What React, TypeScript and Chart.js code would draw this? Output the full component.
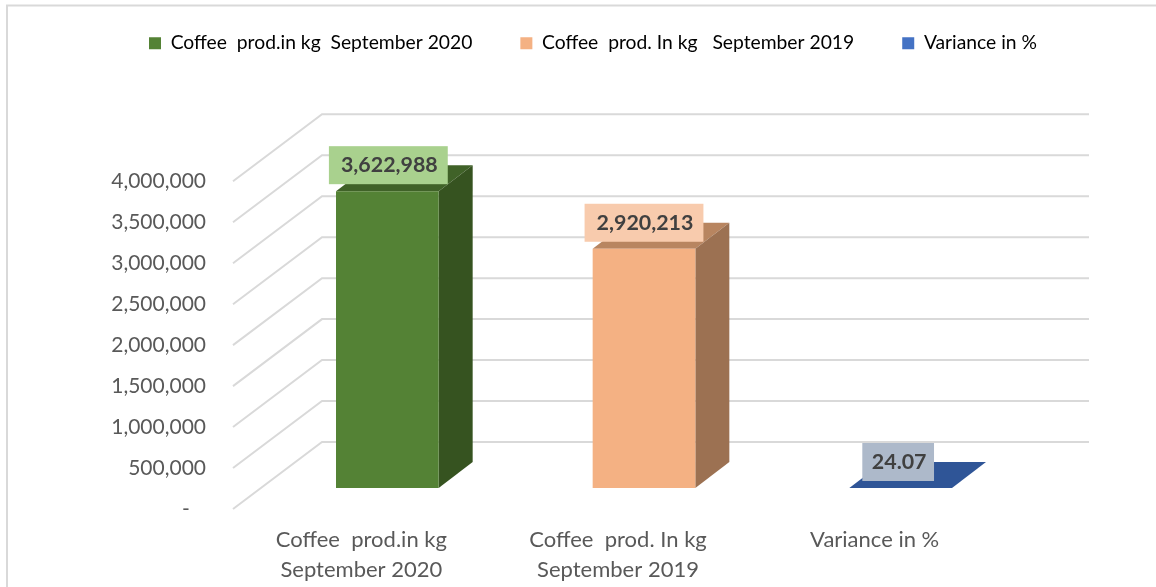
import React, { useEffect, useRef } from "react";
import { Chart, registerables } from "chart.js";

Chart.register(...registerables);

const categories = [
  ["Coffee  prod.in kg", "September 2020"],
  ["Coffee  prod. In kg", "September 2019"],
  ["Variance in %"],
];
const legendLabels = [
  "Coffee  prod.in kg  September 2020",
  "Coffee  prod. In kg   September 2019",
  "Variance in %",
];
const values = [3622988, 2920213, 24.07];
const valueLabels = ["3,622,988", "2,920,213", "24.07"];
const frontColors = ["#548235", "#F4B183", "#4472C4"];
const topColors = ["#406228", "#B88560", "#2F5597"];
const sideColors = ["#365320", "#9C7152", "#2F5597"];
const labelBoxColors = ["#A9D18E", "#F8CBAD", "#ADB9CA"];
const labelBoxShift = [1, 0, -2.5];
const labelBoxPad = [22, 22, 17];

const FONT = "Lato, Carlito, sans-serif";
const TEXT = "#595959";
const GRID = "#D9D9D9";
const DEPTH_X = 34;
const DEPTH_Y = 26;

const poly = (ctx: CanvasRenderingContext2D, pts: number[][], color: string) => {
  ctx.beginPath();
  pts.forEach(([x, y], i) => (i ? ctx.lineTo(x, y) : ctx.moveTo(x, y)));
  ctx.closePath();
  ctx.fillStyle = color;
  ctx.fill();
};

const frame3d = {
  id: "frame3d",
  afterLayout(chart: any) {
    const lg = chart.legend;
    lg.left = 149 - 48;
    lg.top = -14.5;
  },
  beforeDatasetsDraw(chart: any) {
    const ctx: CanvasRenderingContext2D = chart.ctx;
    const yScale = chart.scales.y;
    ctx.save();
    // chart frame
    ctx.strokeStyle = GRID;
    ctx.lineWidth = 2;
    ctx.beginPath();
    ctx.moveTo(7, 587);
    ctx.lineTo(7, 5.5);
    ctx.lineTo(1156, 5.5);
    ctx.stroke();
    // floor and wall gridlines
    yScale.ticks.forEach((_: any, i: number) => {
      const y = yScale.getPixelForTick(i);
      ctx.beginPath();
      ctx.moveTo(233, y + 21);
      ctx.lineTo(322, y - 46);
      ctx.lineTo(1089, y - 46);
      ctx.stroke();
    });
    // bar top and side faces
    chart.getDatasetMeta(0).data.forEach((bar: any, i: number) => {
      const l = bar.x - bar.width / 2;
      const r = bar.x + bar.width / 2;
      poly(ctx, [[l, bar.y], [r, bar.y], [r + DEPTH_X, bar.y - DEPTH_Y], [l + DEPTH_X, bar.y - DEPTH_Y]], topColors[i]);
      poly(ctx, [[r, bar.y], [r + DEPTH_X, bar.y - DEPTH_Y], [r + DEPTH_X, bar.base - DEPTH_Y], [r, bar.base]], sideColors[i]);
    });
    ctx.restore();
  },
  afterDatasetsDraw(chart: any) {
    const ctx: CanvasRenderingContext2D = chart.ctx;
    ctx.save();
    ctx.font = `bold 21.4px ${FONT}`;
    ctx.textAlign = "center";
    ctx.textBaseline = "middle";
    chart.getDatasetMeta(0).data.forEach((bar: any, i: number) => {
      const w = ctx.measureText(valueLabels[i]).width + labelBoxPad[i];
      const h = 38;
      const cx = bar.x + labelBoxShift[i];
      const bottom = bar.y - 7;
      ctx.fillStyle = labelBoxColors[i];
      ctx.fillRect(cx - w / 2, bottom - h, w, h);
      ctx.fillStyle = "#404040";
      ctx.fillText(valueLabels[i], cx + 1, bottom - h / 2);
    });
    ctx.restore();
  },
};

export default function App() {
  const ref = useRef<HTMLCanvasElement>(null);
  useEffect(() => {
    const chart = new Chart(ref.current!, {
      type: "bar",
      data: {
        labels: categories as any,
        datasets: [
          {
            data: values,
            backgroundColor: frontColors,
            barPercentage: 1,
            categoryPercentage: 0.4,
          },
        ],
      },
      plugins: [frame3d],
      options: {
        animation: false,
        responsive: false,
        layout: { padding: { top: 83, right: 0, left: 0, bottom: 0 } },
        plugins: {
          tooltip: { enabled: false },
          title: { display: false },
          legend: {
            position: "top",
            align: "start",
            onClick: () => {},
            labels: {
              boxWidth: 12,
              boxHeight: 12,
              padding: 48,
              color: TEXT,
              font: { family: FONT, size: 19.3 },
              generateLabels: () =>
                legendLabels.map((text, i) => ({
                  text,
                  fillStyle: frontColors[i],
                  strokeStyle: frontColors[i],
                  lineWidth: 0,
                  hidden: false,
                  index: i,
                })),
            },
          },
        },
        scales: {
          x: {
            grid: { display: false, drawTicks: false },
            border: { display: false },
            afterFit: (s: any) => {
              s.height = 99;
            },
            ticks: {
              autoSkip: false,
              maxRotation: 0,
              minRotation: 0,
              padding: 37,
              labelOffset: -26,
              color: TEXT,
              font: { family: FONT, size: 22, lineHeight: 1.36 },
            },
          },
          y: {
            min: 0,
            max: 4000000,
            grid: { display: false, drawTicks: false },
            border: { display: false },
            afterFit: (s: any) => {
              s.width = 259;
            },
            ticks: {
              stepSize: 500000,
              padding: 53,
              labelOffset: 21,
              color: TEXT,
              font: { family: FONT, size: 21 },
              callback: (v: any) => (Number(v) === 0 ? "-   " : Number(v).toLocaleString("en-US")),
            },
          },
          rightGutter: {
            position: "right",
            display: true,
            grid: { display: false, drawTicks: false },
            border: { display: false },
            ticks: { display: false },
            afterFit: (s: any) => {
              s.width = 127;
            },
          },
        },
      },
    } as any);
    return () => chart.destroy();
  }, []);
  return (
    <div style={{ position: "fixed", left: 0, top: 0, width: 1156, height: 587, background: "#fff", overflow: "hidden" }}>
      <canvas ref={ref} width={1156} height={587} style={{ display: "block" }} />
    </div>
  );
}
